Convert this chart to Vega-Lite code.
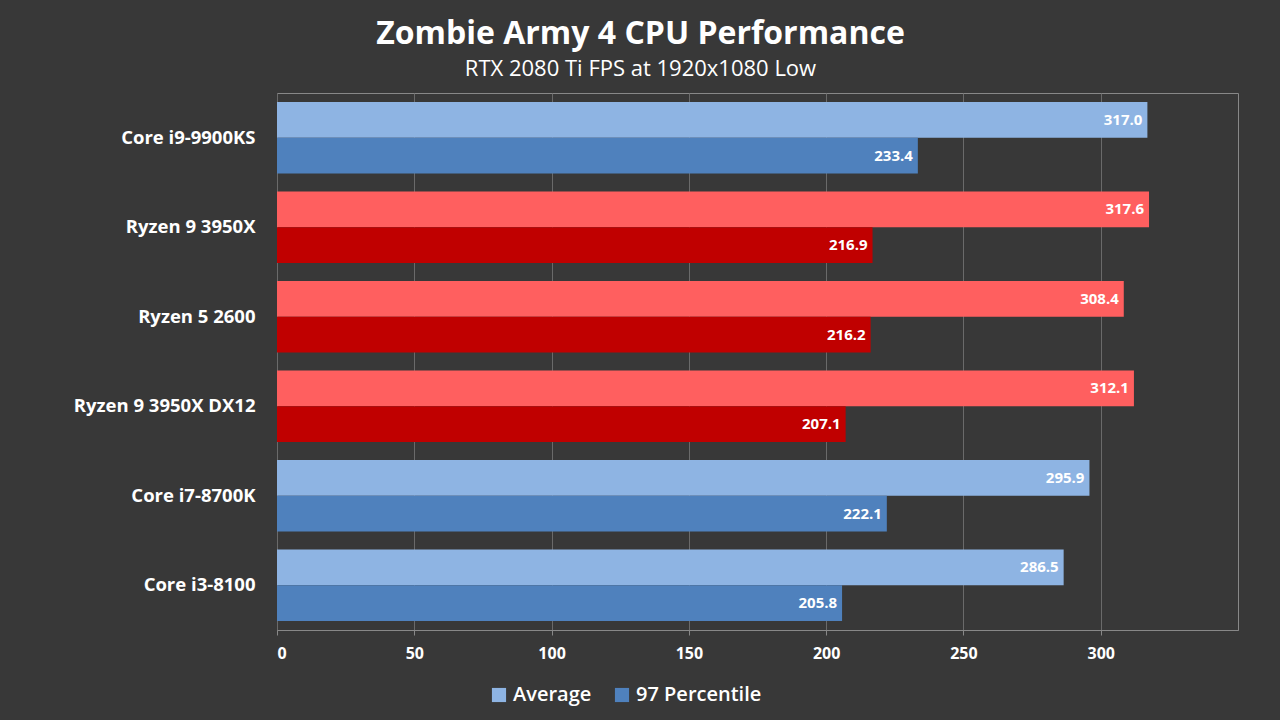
{
"$schema":"https://vega.github.io/schema/vega-lite/v6.json",
"width":961,"height":537,
"autosize":{"type":"none"},
"padding":{"left":277,"top":93,"right":42,"bottom":90},
"background":"#383838",
"title":{"text":"Zombie Army 4 CPU Performance","subtitle":"RTX 2080 Ti FPS at 1920x1080 Low","color":"white","subtitleColor":"white","fontSize":32,"subtitleFontSize":22,"font":"Open Sans","subtitleFont":"Open Sans","fontWeight":"bold","anchor":"middle","dx":-117,"offset":12,"subtitlePadding":8},
"data":{"values":[
{"cpu":"Core i9-9900KS","brand":"Intel","series":"Average","fps":317.0},
{"cpu":"Core i9-9900KS","brand":"Intel","series":"97 Percentile","fps":233.4},
{"cpu":"Ryzen 9 3950X","brand":"AMD","series":"Average","fps":317.6},
{"cpu":"Ryzen 9 3950X","brand":"AMD","series":"97 Percentile","fps":216.9},
{"cpu":"Ryzen 5 2600","brand":"AMD","series":"Average","fps":308.4},
{"cpu":"Ryzen 5 2600","brand":"AMD","series":"97 Percentile","fps":216.2},
{"cpu":"Ryzen 9 3950X DX12","brand":"AMD","series":"Average","fps":312.1},
{"cpu":"Ryzen 9 3950X DX12","brand":"AMD","series":"97 Percentile","fps":207.1},
{"cpu":"Core i7-8700K","brand":"Intel","series":"Average","fps":295.9},
{"cpu":"Core i7-8700K","brand":"Intel","series":"97 Percentile","fps":222.1},
{"cpu":"Core i3-8100","brand":"Intel","series":"Average","fps":286.5},
{"cpu":"Core i3-8100","brand":"Intel","series":"97 Percentile","fps":205.8}
]},
"encoding":{
"y":{"field":"cpu","type":"nominal","sort":null,"title":null,"scale":{"paddingInner":0.2,"paddingOuter":0.1},
"axis":{"labelColor":"white","labelFont":"Open Sans","labelFontWeight":"bold","labelFontSize":18.5,"labelLimit":300,"domain":false,"ticks":false,"labelPadding":22}},
"yOffset":{"field":"series","type":"nominal","sort":["Average","97 Percentile"]},
"x":{"field":"fps","type":"quantitative","title":null,"scale":{"domain":[0,350]},
"axis":{"values":[0,50,100,150,200,250,300],"labelColor":"white","labelFont":"Open Sans","labelFontWeight":"bold","labelFontSize":16,"gridColor":"#6a6a6a","domainColor":"#888","tickColor":"#888","labelPadding":10}}
},
"layer":[
{"mark":{"type":"bar"},
"encoding":{"color":{
"condition":[
{"test":"datum.brand=='AMD' && datum.series=='Average'","value":"#FF5F5F"},
{"test":"datum.brand=='AMD' && datum.series=='97 Percentile'","value":"#C00000"}],
"field":"series","type":"nominal","sort":["Average","97 Percentile"],
"scale":{"domain":["Average","97 Percentile"],"range":["#8EB4E3","#4F81BD"]},
"legend":{"title":null,"orient":"none","legendX":212,"legendY":592,"direction":"horizontal","labelColor":"white","labelFont":"Open Sans","labelFontWeight":600,"labelFontSize":20,"symbolType":"square","symbolSize":200,"symbolStrokeWidth":0,"columnPadding":20}}}},
{"mark":{"type":"text","align":"right","dx":-5,"color":"white","font":"Open Sans","fontWeight":"bold","fontSize":15},
"encoding":{"text":{"field":"fps","type":"quantitative","format":".1f"}}}
],
"config":{"view":{"stroke":"#888"}}
}
